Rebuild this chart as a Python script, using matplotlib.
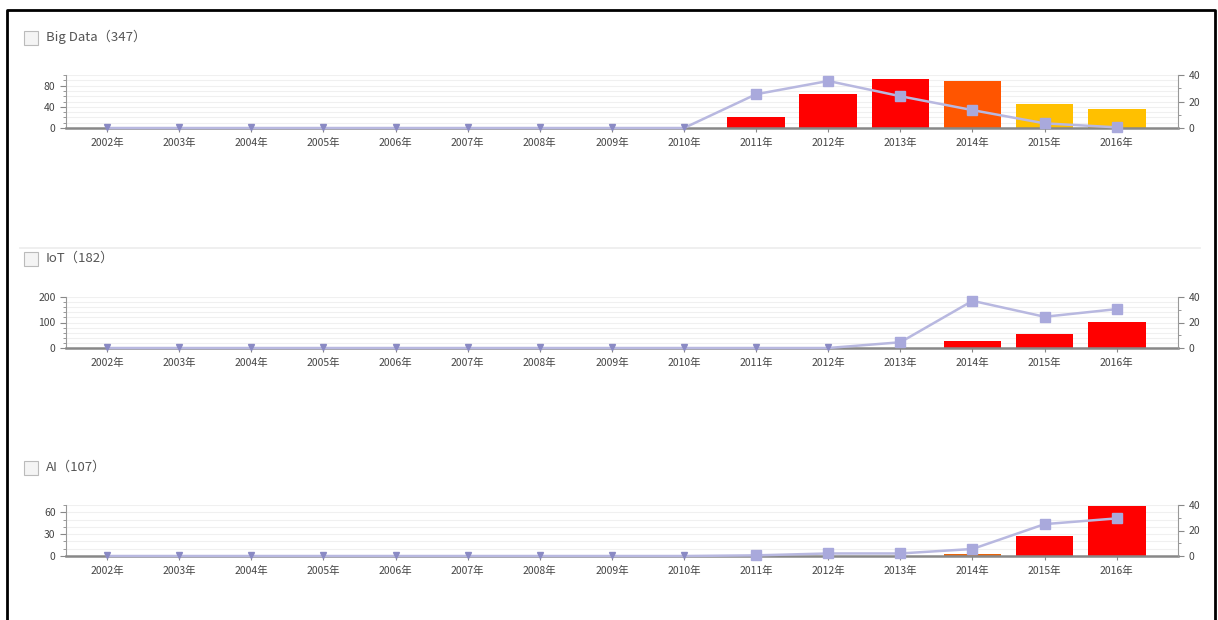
import numpy as np
import matplotlib.pyplot as plt
from matplotlib.patches import Rectangle
from matplotlib.lines import Line2D
from matplotlib.ticker import MultipleLocator

plt.rcParams['font.family'] = ['Noto Sans CJK JP', 'DejaVu Sans']

years = [str(y) + '年' for y in range(2002, 2017)]

# bar counts (left axis) and line values (right axis) per panel
bigdata_bars = [0, 0, 0, 0, 0, 0, 0, 0, 0, 20, 65, 92, 89, 45, 36]
bigdata_line = [0, 0, 0, 0, 0, 0, 0, 0, 0, 25.5, 35.5, 24, 13.5, 3.5, 0.5]
bigdata_colors = ['#ff0000'] * 12 + ['#ff5500', '#ffc000', '#ffc000']

iot_bars = [0, 0, 0, 0, 0, 0, 0, 0, 0, 0, 0, 0, 26, 54, 102]
iot_line = [0, 0, 0, 0, 0, 0, 0, 0, 0, 0, 0, 4.5, 37, 24.5, 30.5]
iot_colors = ['#ff0000'] * 15

ai_bars = [0, 0, 0, 0, 0, 0, 0, 0, 0, 0, 0, 0, 3, 27, 68]
ai_line = [0, 0, 0, 0, 0, 0, 0, 0, 0, 0.5, 2, 2, 5.5, 25, 29.5]
ai_colors = ['#ff0000'] * 12 + ['#e8640a', '#ff0000', '#ff0000']

titles = ['Big Data（347）', 'IoT（182）', 'AI（107）']

W, H = 1218, 620
fig = plt.figure(figsize=(W / 100, H / 100), dpi=100)

# pixel layout: (title y, axes top, axes bottom)
panels = [
    (bigdata_bars, bigdata_line, bigdata_colors, titles[0], 37, 75, 128, 100, 40, 10),
    (iot_bars, iot_line, iot_colors, titles[1], 258, 297, 348, 200, 100, 20),
    (ai_bars, ai_line, ai_colors, titles[2], 467, 505, 556, 70, 30, 10),
]

x = np.arange(len(years))
left_px, right_px = 66, 1178

for bars, line, colors, title, ty, top, bot, ymax, major, minor in panels:
    ax = fig.add_axes([left_px / W, 1 - bot / H, (right_px - left_px) / W, (bot - top) / H])
    ax.bar(x, bars, width=0.8, color=colors, zorder=2)
    ax.set_xlim(-0.57, 14.85)
    ax.set_ylim(0, ymax)
    ax.yaxis.set_major_locator(MultipleLocator(major))
    ax.yaxis.set_minor_locator(MultipleLocator(minor))
    ax.grid(axis='y', which='both', color='#f0f0f0', lw=0.8, zorder=0)
    ax.set_xticks(x)
    ax.set_xticklabels(years)
    ax.tick_params(axis='x', length=3, color='#888888', labelsize=7.5, labelcolor='#444444', pad=4)
    ax.tick_params(axis='y', which='major', length=4, color='#888888', labelsize=7.5, labelcolor='#444444')
    ax.tick_params(axis='y', which='minor', length=2, color='#888888')
    for s in ['top', 'right']:
        ax.spines[s].set_visible(False)
    ax.spines['left'].set_color('#999999')
    ax.spines['bottom'].set_color('#888888')
    ax.spines['bottom'].set_linewidth(1.8)

    ax2 = ax.twinx()
    ax2.set_ylim(0, 40)
    ax2.yaxis.set_major_locator(MultipleLocator(20))
    ax2.yaxis.set_minor_locator(MultipleLocator(10))
    ax2.tick_params(axis='y', which='major', length=4, color='#888888', labelsize=7.5, labelcolor='#444444')
    ax2.tick_params(axis='y', which='minor', length=2, color='#888888')
    for s in ['top', 'left', 'bottom']:
        ax2.spines[s].set_visible(False)
    ax2.spines['right'].set_color('#999999')
    vals = np.array(line)
    ax2.plot(x, vals, color='#b8b8e0', lw=1.8, zorder=3, clip_on=False)
    nz = vals > 0.3
    ax2.plot(x[nz], vals[nz], 's', color='#a9a9dc', ms=6.5, zorder=4, clip_on=False)
    ax2.plot(x[~nz], vals[~nz] + 0.8, 'v', color='#8a8ac4', ms=4.5, zorder=4, clip_on=False)

    # checkbox + title
    fig.add_artist(Rectangle((24 / W, 1 - (ty + 8) / H), 14 / W, 14 / H,
                             transform=fig.transFigure, facecolor='#f4f4f4',
                             edgecolor='#bbbbbb', lw=0.8))
    fig.text(46 / W, 1 - ty / H, title, fontsize=9.5, color='#555555', va='center', ha='left')

# faint separator below the first panel
fig.add_artist(Line2D([20 / W, 1200 / W], [1 - 248 / H] * 2, color='#ececec', lw=1.2))

# outer frame (no bottom edge)
fig.add_artist(Line2D([7 / W, 7 / W, 1215 / W, 1215 / W], [0, 1 - 10 / H, 1 - 10 / H, 0],
                      color='black', lw=2))

fig.savefig('out.png', dpi=100)
